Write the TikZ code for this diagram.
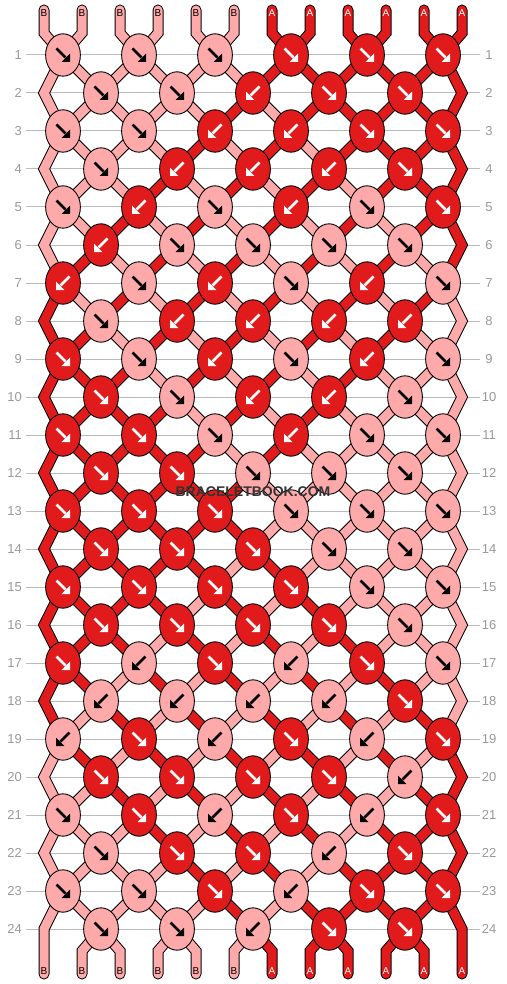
\documentclass[tikz,border=0pt]{standalone}
\usepackage{fontspec}
\setmainfont{Liberation Sans}
\usetikzlibrary{shapes.geometric}
\definecolor{pk}{HTML}{FFAAAA}
\definecolor{rd}{HTML}{E11B1B}
\definecolor{gridc}{HTML}{BBBBBB}
\definecolor{labc}{HTML}{999999}
\definecolor{wmc}{HTML}{333333}
\pgfdeclarelayer{bg}
\pgfsetlayers{bg,main}
\tikzset{
  knot/.style={ellipse, draw=black, line width=0.9pt, minimum width=34.8pt, minimum height=42.4pt, inner sep=0pt},
  pics/arr/.style={code={
     \draw[line width=2.7pt, color=#1] (-6.5,-6.5) -- (2.5,2.5);
     \fill[color=#1] (7,7) -- (-1.4,7) -- (7,-1.4) -- cycle;}},
  rowlab/.style={text=labc, font=\fontsize{13}{13}\selectfont, inner sep=0pt},
  strandout/.style={line width=11pt, draw=black, line cap=round, line join=miter},
  strandin/.style={line width=9pt, line cap=round, line join=miter},
  endlab/.style={font=\fontsize{10}{10}\selectfont, inner sep=0pt},
  gridline/.style={draw=gridc, line width=1pt},
  wmk/.style={font=\fontsize{14}{14}\selectfont\bfseries, inner sep=0pt},
}
\begin{document}
\begin{tikzpicture}[x=1pt,y=-1pt]
\useasboundingbox (0,0) rectangle (506,984);
% knots
\foreach \r/\row in {
 1/{P/f,P/f,P/f,R/f,R/f,R/f},
 2/{P/f,P/f,R/b,R/f,R/f},
 3/{P/f,P/f,R/b,R/b,R/f,R/f},
 4/{P/f,R/b,R/b,R/b,R/f},
 5/{P/f,R/b,P/f,R/b,P/f,R/f},
 6/{R/b,P/f,P/f,P/f,P/f},
 7/{R/b,P/f,R/b,P/f,R/b,P/f},
 8/{P/f,R/b,R/b,R/b,R/b},
 9/{R/f,P/f,R/b,P/f,R/b,P/f},
 10/{R/f,P/f,R/b,R/b,P/f},
 11/{R/f,R/f,P/f,R/b,P/f,P/f},
 12/{R/f,R/f,P/f,P/f,P/f},
 13/{R/f,R/f,R/f,P/f,P/f,P/f},
 14/{R/f,R/f,R/f,P/f,P/f},
 15/{R/f,R/f,R/f,R/f,P/f,P/f},
 16/{R/f,R/f,R/f,R/f,P/f},
 17/{R/f,P/b,R/f,P/b,R/f,P/f},
 18/{P/b,P/b,P/b,P/b,R/f},
 19/{P/b,R/f,P/b,R/f,P/b,R/f},
 20/{R/f,R/f,R/f,R/f,P/b},
 21/{P/f,R/f,P/b,R/f,P/b,R/f},
 22/{P/f,R/f,R/f,P/b,R/f},
 23/{P/f,P/f,R/f,P/b,R/f,R/f},
 24/{P/f,P/f,P/b,R/f,R/f}}{
  \pgfmathtruncatemacro\y{55+38*(\r-1)}
  \pgfmathtruncatemacro\xo{isodd(\r) ? 63 : 101}
  \foreach \c/\d [count=\i] in \row {
    \if\c P\def\fc{pk}\def\ac{black}\else\def\fc{rd}\def\ac{white}\fi
    \if\d f\def\xsc{1}\else\def\xsc{-1}\fi
    \node[knot, fill=\fc] (k-\r-\i) at ({\xo+76*(\i-1)}, \y) {};
    \pic[xscale=\xsc] at (k-\r-\i.center) {arr=\ac};
  }
}
% edge vertices
\foreach \r in {2,4,...,24}{
  \pgfmathtruncatemacro\y{55+38*(\r-1)}
  \coordinate (eL-\r) at (44,\y);
  \coordinate (eR-\r) at (462,\y);
}
% string path points
\foreach \s in {1,...,12}{
  \pgfmathtruncatemacro\sx{44+38*(\s-1)}
  \coordinate (t-\s) at (\sx,10);
  \coordinate (tb-\s) at (\sx,33);
  \coordinate (bb-\s) at (\sx,951);
  \coordinate (be-\s) at (\sx,974);
  \pgfmathtruncatemacro\phz{isodd(\s) ? \s-1 : 24-\s}
  \foreach \r in {1,...,24}{
    \pgfmathtruncatemacro\ph{mod(\phz+\r-1,24)}
    \pgfmathtruncatemacro\p{\ph<12 ? \ph+1 : 24-\ph}
    \pgfmathtruncatemacro\k{isodd(\r) ? int((\p+1)/2) : int(\p/2)}
    \ifodd\r
      \coordinate (s-\s-\r) at (k-\r-\k.center);
    \else
      \ifnum\k=0
        \coordinate (s-\s-\r) at (eL-\r);
      \else
        \ifnum\k=6
          \coordinate (s-\s-\r) at (eR-\r);
        \else
          \coordinate (s-\s-\r) at (k-\r-\k.center);
        \fi
      \fi
    \fi
  }
}
\begin{pgfonlayer}{bg}
  \foreach \r in {1,...,24}{
    \pgfmathtruncatemacro\y{55+38*(\r-1)}
    \coordinate (gl-\r) at (26,\y);
    \coordinate (gr-\r) at (480,\y);
    \draw[gridline] (gl-\r) -- (gr-\r);
    \node[rowlab, anchor=east] (ll-\r) at (22,\y) {\r};
    \node[rowlab] (rl-\r) at (489,\y) {\r};
  }
  \foreach \s in {1,...,12}{
    \draw[strandout] (t-\s) -- (tb-\s) \foreach \r in {1,...,24}{ -- (s-\s-\r)} -- (bb-\s) -- (be-\s);
  }
  \foreach \s in {1,...,12}{
    \ifnum\s<7 \def\sc{pk}\else\def\sc{rd}\fi
    \draw[strandin, draw=\sc] (t-\s) -- (tb-\s) \foreach \r in {1,...,24}{ -- (s-\s-\r)} -- (bb-\s) -- (be-\s);
  }
  \foreach \s in {1,...,12}{
    \ifnum\s<7 \def\lt{B}\def\lc{black}\else\def\lt{A}\def\lc{white}\fi
    \pgfmathtruncatemacro\sx{44+38*(\s-1)}
    \node[endlab, text=\lc] (tl-\s) at (\sx,13) {\lt};
    \node[endlab, text=\lc] (bl-\s) at (\sx,971) {\lt};
  }
\end{pgfonlayer}
% watermark
\node[wmk, text=wmc] (wmark) at (253,491.5) {BRACELETBOOK.COM};
\end{tikzpicture}
\end{document}
